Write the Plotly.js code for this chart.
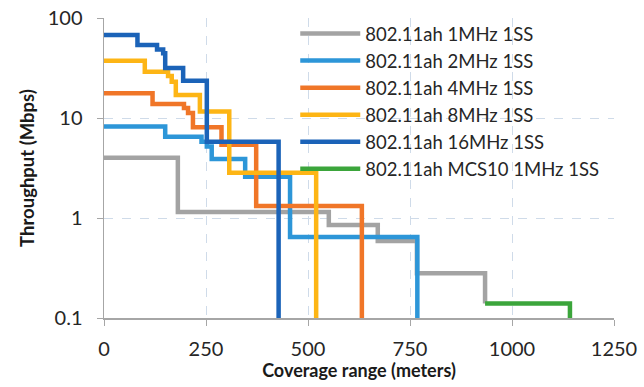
<!DOCTYPE html>
<html>
<head>
<meta charset="utf-8">
<script src="https://cdn.plot.ly/plotly-3.0.1.min.js"></script>
<style>html,body{margin:0;padding:0;background:#fff;}#chart{width:644px;height:387px;}</style>
</head>
<body>
<div id="chart"></div>
<script>
// Step breakpoints (meters) and throughput levels (Mbps)
const seriesNames = ["802.11ah 1MHz 1SS","802.11ah 2MHz 1SS","802.11ah 4MHz 1SS","802.11ah 8MHz 1SS","802.11ah 16MHz 1SS","802.11ah MCS10 1MHz 1SS"];
const mhz1_x  = [0, 181, 551, 671, 767, 934];
const mhz1_y  = [4.0, 1.15, 0.85, 0.59, 0.28, 0.14];
const mhz2_x  = [0, 150, 239, 252, 264, 346, 456, 768];
const mhz2_y  = [8.2, 6.5, 5.8, 5.2, 3.9, 2.59, 0.645, 0.1];
const mhz4_x  = [0, 119, 196, 206, 218, 288, 373, 632];
const mhz4_y  = [17.7, 13.8, 12.6, 11.2, 8.1, 5.4, 1.32, 0.1];
const mhz8_x  = [0, 100, 157, 166, 176, 235, 307, 520];
const mhz8_y  = [37.4, 29.0, 26.3, 23.1, 17.0, 11.6, 2.84, 0.1];
const mhz16_x = [0, 82, 130, 145, 150, 194, 252, 428];
const mhz16_y = [67.6, 53.7, 48.5, 44.5, 31.6, 23.6, 5.8, 0.1];
const mcs10_x = [934, 1142];
const mcs10_y = [0.14, 0.1];
const xTicks = [0, 250, 500, 750, 1000, 1250];
const yTicks = [0.1, 1, 10, 100];
const yTickText = ["0.1", "1", "10", "100"];

const colors = ["#A3A3A3", "#2D96D8", "#F07628", "#FDB515", "#1B63B8", "#3BA53B"];
const xs = [mhz1_x, mhz2_x, mhz4_x, mhz8_x, mhz16_x, mcs10_x];
const ys = [mhz1_y, mhz2_y, mhz4_y, mhz8_y, mhz16_y, mcs10_y];

const data = seriesNames.map((n, i) => ({
  type: "scatter", mode: "lines", name: n,
  x: xs[i], y: ys[i],
  line: {shape: "hv", color: colors[i], width: 4.5},
  cliponaxis: false
}));

const font = "Lato";
const layout = {
  width: 644, height: 387,
  margin: {l: 104, r: 30, t: 18, b: 69},
  paper_bgcolor: "#fff", plot_bgcolor: "#fff",
  font: {family: font, size: 18, color: "#333"},
  showlegend: true,
  legend: {x: 0.375, y: 1.01, xanchor: "left", yanchor: "top",
    bgcolor: "rgba(0,0,0,0)", itemwidth: 60, tracegroupgap: 0,
    font: {family: font, size: 18.5, color: "#262626"}},
  xaxis: {range: [0, 1250], tickvals: xTicks, ticktext: xTicks.map(String),
    showgrid: true, gridcolor: "#CFDBE9", griddash: "dash", gridwidth: 1,
    showline: true, linecolor: "#A6A6A6", linewidth: 1.5,
    ticks: "outside", ticklen: 6, tickcolor: "#A6A6A6", ticklabelstandoff: 6,
    zeroline: false, tickfont: {family: font, size: 20, color: "#262626"},
    title: {text: "<b>Coverage range (meters)</b>", font: {family: font, size: 18, color: "#1a1a1a"}, standoff: 2}},
  yaxis: {type: "log", range: [-1, 2], tickvals: yTicks, ticktext: yTickText,
    showgrid: true, gridcolor: "#CFDBE9", griddash: "dash", gridwidth: 1,
    showline: true, linecolor: "#A6A6A6", linewidth: 1.5,
    ticks: "outside", ticklen: 6, tickcolor: "#A6A6A6", ticklabelstandoff: 10,
    zeroline: false, tickfont: {family: font, size: 20, color: "#262626"},
    title: {text: "<b>Throughput (Mbps)</b>", font: {family: font, size: 18.5, color: "#1a1a1a"}, standoff: 8}}
};
Plotly.newPlot("chart", data, layout, {displayModeBar: false, staticPlot: true});
</script>
</body>
</html>
